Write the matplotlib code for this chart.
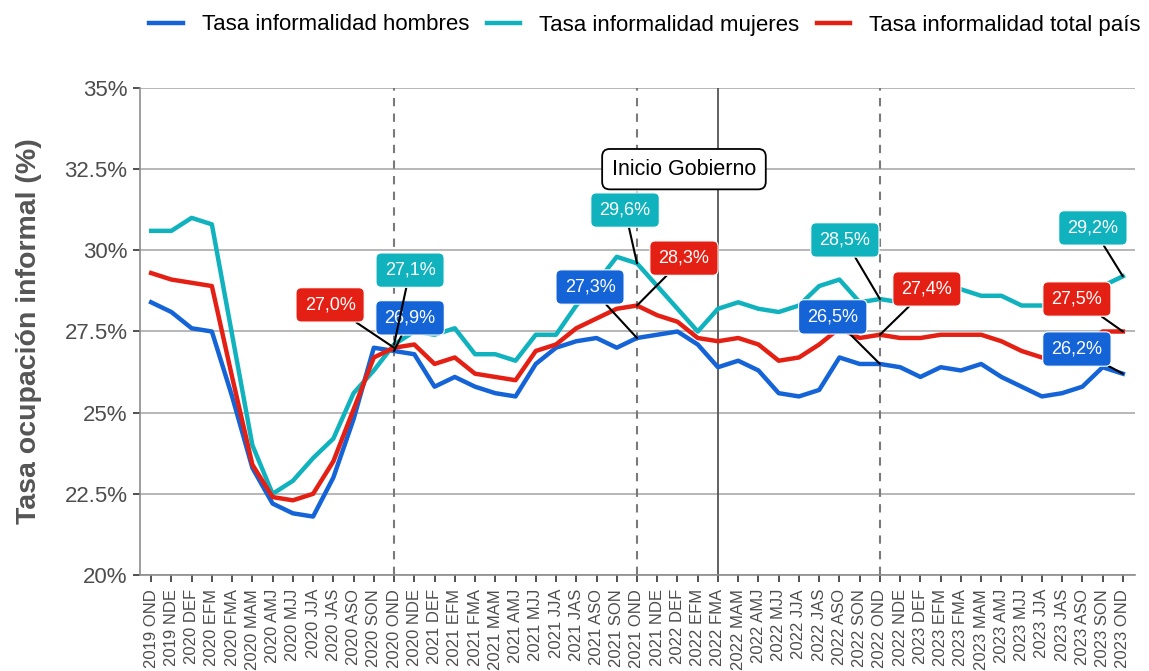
import matplotlib
matplotlib.use('Agg')
from matplotlib import pyplot as plt
from matplotlib.ticker import FuncFormatter
import numpy as np

plt.rcParams['font.family'] = ['Liberation Sans', 'DejaVu Sans']

periodos = ['2019 OND', '2019 NDE', '2020 DEF', '2020 EFM', '2020 FMA', '2020 MAM',
            '2020 AMJ', '2020 MJJ', '2020 JJA', '2020 JAS', '2020 ASO', '2020 SON',
            '2020 OND', '2020 NDE', '2021 DEF', '2021 EFM', '2021 FMA', '2021 MAM',
            '2021 AMJ', '2021 MJJ', '2021 JJA', '2021 JAS', '2021 ASO', '2021 SON',
            '2021 OND', '2021 NDE', '2022 DEF', '2022 EFM', '2022 FMA', '2022 MAM',
            '2022 AMJ', '2022 MJJ', '2022 JJA', '2022 JAS', '2022 ASO', '2022 SON',
            '2022 OND', '2022 NDE', '2023 DEF', '2023 EFM', '2023 FMA', '2023 MAM',
            '2023 AMJ', '2023 MJJ', '2023 JJA', '2023 JAS', '2023 ASO', '2023 SON',
            '2023 OND']

hombres = [28.4, 28.1, 27.6, 27.5, 25.5, 23.3, 22.2, 21.9, 21.8, 23.0, 24.8, 27.0,
           26.9, 26.8, 25.8, 26.1, 25.8, 25.6, 25.5, 26.5, 27.0, 27.2, 27.3, 27.0,
           27.3, 27.4, 27.5, 27.1, 26.4, 26.6, 26.3, 25.6, 25.5, 25.7, 26.7, 26.5,
           26.5, 26.4, 26.1, 26.4, 26.3, 26.5, 26.1, 25.8, 25.5, 25.6, 25.8, 26.4,
           26.2]
mujeres = [30.6, 30.6, 31.0, 30.8, 27.4, 24.0, 22.5, 22.9, 23.6, 24.2, 25.6, 26.3,
           27.1, 27.5, 27.4, 27.6, 26.8, 26.8, 26.6, 27.4, 27.4, 28.3, 29.0, 29.8,
           29.6, 28.9, 28.2, 27.5, 28.2, 28.4, 28.2, 28.1, 28.3, 28.9, 29.1, 28.4,
           28.5, 28.4, 28.6, 28.9, 28.8, 28.6, 28.6, 28.3, 28.3, 28.3, 28.6, 28.9,
           29.2]
total = [29.3, 29.1, 29.0, 28.9, 26.1, 23.4, 22.4, 22.3, 22.5, 23.5, 25.1, 26.7,
         27.0, 27.1, 26.5, 26.7, 26.2, 26.1, 26.0, 26.9, 27.1, 27.6, 27.9, 28.2,
         28.3, 28.0, 27.8, 27.3, 27.2, 27.3, 27.1, 26.6, 26.7, 27.1, 27.6, 27.3,
         27.4, 27.3, 27.3, 27.4, 27.4, 27.4, 27.2, 26.9, 26.7, 26.7, 27.0, 27.5,
         27.5]

series = [
    ('Tasa informalidad hombres', hombres, '#1464d7'),
    ('Tasa informalidad mujeres', mujeres, '#10b2be'),
    ('Tasa informalidad total país', total, '#e42014'),
]

# periods that get a dashed reference line
cortes = ['2020 OND', '2021 OND', '2022 OND']
inicio_gobierno = '2022 FMA'

# label offsets (dx, dy) per series (hombres, mujeres, total) at each labelled period
offsets = {
    '2020 OND': [(0.79, 1.02), (0.79, 2.29), (-3.16, 1.32)],
    '2021 OND': [(-2.32, 1.57), (-0.59, 1.64), (2.32, 1.46)],
    '2022 OND': [(-2.33, 1.45), (-1.73, 1.82), (2.32, 1.41)],
    '2023 OND': [(-2.27, 0.76), (-1.48, 1.49), (-2.27, 1.00)],
}

x = np.arange(len(periodos))

fig = plt.figure(figsize=(11.49, 6.71), dpi=100)
ax = fig.add_axes([140 / 1149, 1 - 575 / 671, 995 / 1149, 487 / 671])

ax.yaxis.grid(True, color='#a3a3a3', lw=1.1)
ax.set_axisbelow(True)

for c in cortes:
    ax.axvline(periodos.index(c), color='#7a7a7a', lw=1.5, ls=(0, (4, 3.5)), zorder=1.5)
ax.axvline(periodos.index(inicio_gobierno), color='#555555', lw=1.3, zorder=1.5)

handles = []
for name, vals, col in series:
    h, = ax.plot(x, vals, color=col, lw=3.2, label=name, zorder=3,
                 solid_joinstyle='round')
    handles.append(h)

for per, offs in offsets.items():
    i = periodos.index(per)
    for (name, vals, col), (dx, dy) in zip(series, offs):
        v = vals[i]
        txt = f'{v:.1f}'.replace('.', ',') + '%'
        ax.annotate(txt, xy=(i, v), xytext=(i + dx, v + dy),
                    ha='center', va='center', color='white', fontsize=13,
                    bbox=dict(boxstyle='round,pad=0.48,rounding_size=0.3',
                              fc=col, ec='white', lw=0.8),
                    arrowprops=dict(arrowstyle='-', color='black', lw=1.5,
                                    shrinkA=0, shrinkB=0),
                    zorder=6)

ax.text(26.32, 32.5, 'Inicio Gobierno', ha='center', va='center', fontsize=15.5,
        color='black', zorder=6,
        bbox=dict(boxstyle='round,pad=0.45,rounding_size=0.35', fc='white',
                  ec='black', lw=1.3))

ax.set_xlim(-0.55, 48.6)
ax.set_ylim(20, 35)
ax.set_xticks(x)
ax.set_xticklabels(periodos, rotation=90, fontsize=12, color='#4d4d4d')
ax.set_yticks([20, 22.5, 25, 27.5, 30, 32.5, 35])
ax.yaxis.set_major_formatter(FuncFormatter(lambda v, p: f'{v:g}%'))
ax.tick_params(axis='y', labelsize=16, labelcolor='#4d4d4d', length=5,
               width=1.2, color='#333333', pad=4)
ax.tick_params(axis='x', length=5, width=1.2, color='#333333', pad=5)

for s in ['top', 'right']:
    ax.spines[s].set_visible(False)
for s in ['left', 'bottom']:
    ax.spines[s].set_color('#8c8c8c')
    ax.spines[s].set_linewidth(1.2)

ax.set_ylabel('Tasa ocupación informal (%)', fontsize=20.5, fontweight='bold',
              color='#555555', labelpad=16)

fig.legend(handles=handles, loc='center', bbox_to_anchor=(645 / 1149, 1 - 25 / 671),
           ncol=3, frameon=False, fontsize=16, handlelength=1.5,
           handletextpad=0.85, columnspacing=0.8)

plt.savefig('out.png', dpi=100)
